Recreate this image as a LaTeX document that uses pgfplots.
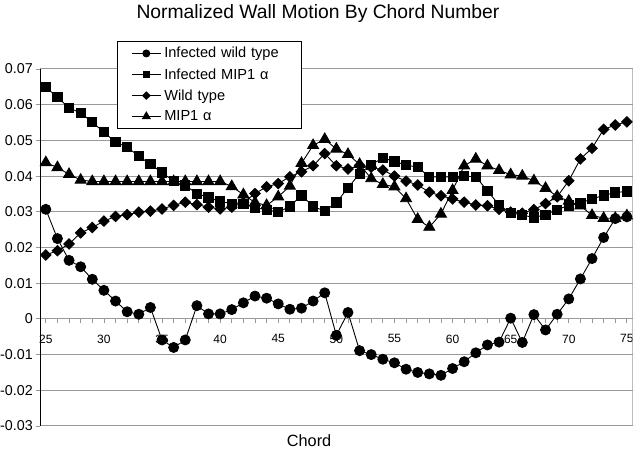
\documentclass[border=0pt]{standalone}
\usepackage{fontspec}
\setmainfont{Liberation Sans}
\usepackage{pgfplots}
\pgfplotsset{compat=1.18}

% chord, value
\pgfplotstableread{
x y
25 0.0307
26 0.0225
27 0.0164
28 0.0146
29 0.0111
30 0.0080
31 0.0050
32 0.0020
33 0.0013
34 0.0032
35 -0.0059
36 -0.0080
37 -0.0059
38 0.0037
39 0.0014
40 0.0014
41 0.0026
42 0.0045
43 0.0064
44 0.0058
45 0.0042
46 0.0027
47 0.0030
48 0.0050
49 0.0073
50 -0.0046
51 0.0018
52 -0.0089
53 -0.0100
54 -0.0113
55 -0.0123
56 -0.0141
57 -0.0150
58 -0.0154
59 -0.0158
60 -0.0139
61 -0.0120
62 -0.0095
63 -0.0073
64 -0.0065
65 0.0002
66 -0.0066
67 0.0012
68 -0.0031
69 0.0013
70 0.0056
71 0.0112
72 0.0169
73 0.0228
74 0.0281
75 0.0286
}\infwild

\pgfplotstableread{
x y
25 0.0649
26 0.0621
27 0.0591
28 0.0577
29 0.0551
30 0.0523
31 0.0495
32 0.0481
33 0.0456
34 0.0433
35 0.0410
36 0.0386
37 0.0374
38 0.0351
39 0.0340
40 0.0329
41 0.0323
42 0.0322
43 0.0311
44 0.0306
45 0.0299
46 0.0315
47 0.0346
48 0.0315
49 0.0302
50 0.0326
51 0.0367
52 0.0407
53 0.0432
54 0.0451
55 0.0441
56 0.0431
57 0.0425
58 0.0398
59 0.0398
60 0.0398
61 0.0400
62 0.0398
63 0.0359
64 0.0319
65 0.0297
66 0.0291
67 0.0284
68 0.0292
69 0.0306
70 0.0318
71 0.0325
72 0.0336
73 0.0346
74 0.0354
75 0.0357
}\infmip

\pgfplotstableread{
x y
25 0.0179
26 0.0191
27 0.0210
28 0.0241
29 0.0256
30 0.0274
31 0.0287
32 0.0292
33 0.0299
34 0.0302
35 0.0308
36 0.0318
37 0.0327
38 0.0320
39 0.0313
40 0.0308
41 0.0313
42 0.0326
43 0.0351
44 0.0370
45 0.0379
46 0.0398
47 0.0412
48 0.0429
49 0.0463
50 0.0429
51 0.0420
52 0.0430
53 0.0425
54 0.0417
55 0.0400
56 0.0386
57 0.0375
58 0.0355
59 0.0345
60 0.0336
61 0.0327
62 0.0319
63 0.0317
64 0.0307
65 0.0299
66 0.0296
67 0.0306
68 0.0323
69 0.0342
70 0.0387
71 0.0448
72 0.0478
73 0.0531
74 0.0543
75 0.0552
}\wild

\pgfplotstableread{
x y
25 0.0438
26 0.0424
27 0.0405
28 0.0389
29 0.0385
30 0.0385
31 0.0385
32 0.0385
33 0.0385
34 0.0385
35 0.0385
36 0.0385
37 0.0385
38 0.0385
39 0.0385
40 0.0385
41 0.0371
42 0.0348
43 0.0326
44 0.0318
45 0.0342
46 0.0372
47 0.0436
48 0.0486
49 0.0503
50 0.0476
51 0.0461
52 0.0433
53 0.0393
54 0.0377
55 0.0370
56 0.0337
57 0.0279
58 0.0257
59 0.0294
60 0.0360
61 0.0429
62 0.0448
63 0.0429
64 0.0416
65 0.0404
66 0.0400
67 0.0387
68 0.0366
69 0.0343
70 0.0330
71 0.0317
72 0.0290
73 0.0282
74 0.0282
75 0.0289
}\mip

\begin{document}
\begin{tikzpicture}
\begin{axis}[
  at={(40pt,23pt)}, anchor=south west,
  scale only axis, width=592.7pt, height=357pt,
  xmin=24.5, xmax=75.5, ymin=-0.03, ymax=0.07,
  axis x line*=middle, axis y line*=left,
  x axis line style={-, gray!80, line width=1pt},
  y axis line style={-, black, line width=1pt},
  hide obscured x ticks=false, hide obscured y ticks=false,
  scaled y ticks=false,
  xtick={25,30,...,75}, minor x tick num=4,
  ytick={-0.03,-0.02,-0.01,0,0.01,0.02,0.03,0.04,0.05,0.06,0.07},
  yticklabels={-0.03,-0.02,-0.01,0,0.01,0.02,0.03,0.04,0.05,0.06,0.07},
  tick align=outside, major tick length=4pt, minor tick length=4pt,
  tick style={gray!80, line width=0.8pt},
  ymajorgrids, grid style={gray!80, line width=1pt},
  /pgf/number format/assume math mode=true,
  xticklabel style={font=\fontsize{12}{12}\selectfont, inner sep=0pt, anchor=center, yshift=-16pt},
  yticklabel style={font=\fontsize{14.3}{14.3}\selectfont, inner sep=0pt, anchor=east, xshift=-3pt},
  title={Normalized Wall Motion By Chord Number},
  title style={at={(axis description cs:0.469,1)}, anchor=base, yshift=44pt, font=\fontsize{19.3}{21}\selectfont},
  xlabel={Chord},
  xlabel style={at={(axis description cs:0.454,0)}, anchor=base, yshift=-21pt, font=\fontsize{16.3}{17}\selectfont},
  every axis plot/.append style={black, line width=0.9pt},
  legend image code/.code={\draw[mark repeat=2,mark phase=2,#1,every mark/.append style={scale=0.7}] plot coordinates {(0pt,0pt) (14.5pt,0pt) (29pt,0pt)};},
  legend cell align=left,
  legend style={at={(axis description cs:0.1299,1.0784)}, anchor=north west,
    draw=black, line width=0.8pt, fill=white,
    font=\fontsize{14.6}{16}\selectfont,
    inner xsep=14pt, inner ysep=4pt, row sep=5pt,
    nodes={text width=120pt, inner xsep=3pt}},
]
\addplot[mark=*, mark size=5pt] table[x=x,y=y] {\infwild};
\addlegendentry{Infected wild type}
\addplot[mark=square*, mark size=4.6pt] table[x=x,y=y] {\infmip};
\addlegendentry{Infected MIP1 α}
\addplot[mark=diamond*, mark size=5.2pt, mark options={xscale=1.35}] table[x=x,y=y] {\wild};
\addlegendentry{Wild type}
\addplot[mark=triangle*, mark size=6.3pt] table[x=x,y=y] {\mip};
\addlegendentry{MIP1 α}
\draw[gray!80, line width=1pt] (rel axis cs:1,0) -- (rel axis cs:1,1);
\end{axis}
\pgfresetboundingbox
\path[use as bounding box] (0,0) rectangle (635pt,449pt);
\end{tikzpicture}
\end{document}
